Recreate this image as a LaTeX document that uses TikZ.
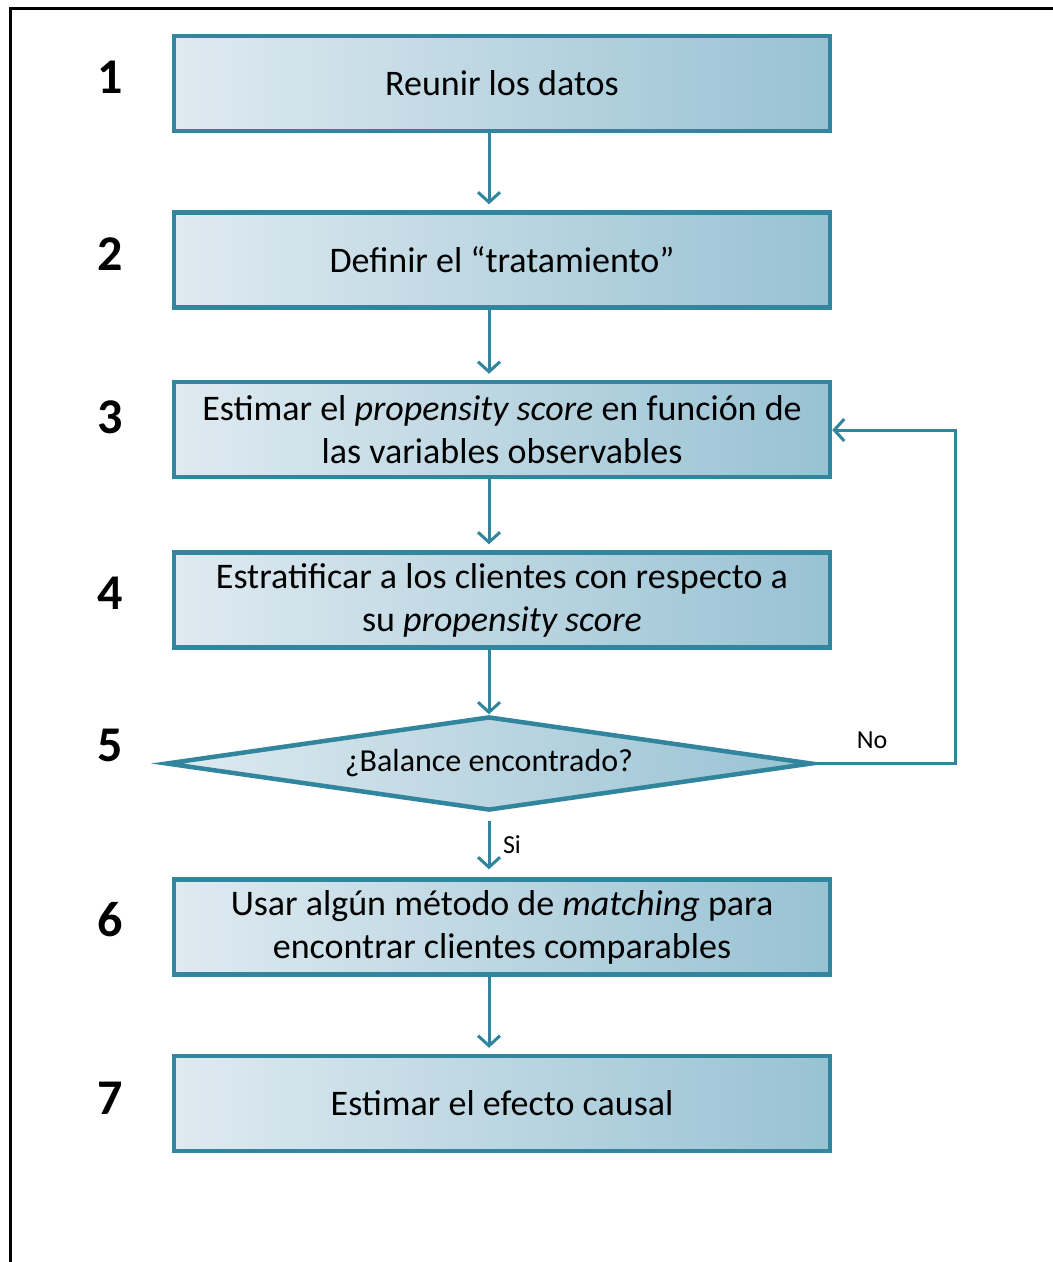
\documentclass[tikz,border=0pt]{standalone}
\usepackage{fontspec}
\setmainfont{Carlito}
\usetikzlibrary{shapes.geometric,arrows.meta}
\definecolor{teal1}{HTML}{31859C}
\definecolor{fillL}{HTML}{DFEAF0}
\definecolor{fillR}{HTML}{98C2D3}
\tikzset{
  stepbox/.style={draw=teal1, line width=4.5pt, left color=fillL, right color=fillR,
    minimum width=656pt, minimum height=95pt, inner sep=0pt, align=center,
    font=\fontsize{36}{43}\selectfont},
  decision/.style={diamond, draw=teal1, line width=4.5pt, left color=fillL, right color=fillR,
    minimum width=646pt, minimum height=94pt, inner sep=0pt, aspect=6.8,
    font=\fontsize{32}{38}\selectfont},
  num/.style={font=\fontsize{50}{56}\selectfont\bfseries, inner sep=0pt},
  flow/.style={draw=teal1, line width=3pt, -{Straight Barb[length=10pt,width=22pt,line width=3pt]}},
  lbl/.style={font=\fontsize{26}{30}\selectfont, inner sep=0pt}
}
\begin{document}
\begin{tikzpicture}[x=1pt,y=-1pt]
\useasboundingbox (0,0) rectangle (1053,1262);
\fill[white] (0,0) rectangle (1053,1262);
\draw[line width=3pt, black] (10,1262) -- (10,8) -- (1053,8);

\node[stepbox] (b1) at (502,83.5) {Reunir los datos};
\node[stepbox] (b2) at (502,260) {Definir el “tratamiento”};
\node[stepbox] (b3) at (502,429.5) {Estimar el \textit{propensity score} en función de\\las variables observables};
\node[stepbox] (b4) at (502,600) {Estratificar a los clientes con respecto a\\su \textit{propensity score}};
\node[decision] (d5) at (489,763.5) {\raisebox{-3pt}{¿Balance encontrado?}};
\node[stepbox] (b6) at (502,927) {Usar algún método de \textit{matching} para\\encontrar clientes comparables};
\node[stepbox] (b7) at (502,1103.5) {Estimar el efecto causal};

\node[num] (n1) at (110,77) {1};
\node[num] (n2) at (110,254) {2};
\node[num] (n3) at (110,417) {3};
\node[num] (n4) at (110,593) {4};
\node[num] (n5) at (110,745) {5};
\node[num] (n6) at (110,920) {6};
\node[num] (n7) at (110,1098) {7};

\draw[flow, shorten >=6pt] (b1.south -| d5.north) -- (b2.north -| d5.north);
\draw[flow, shorten >=6pt] (b2.south -| d5.north) -- (b3.north -| d5.north);
\draw[flow, shorten >=6pt] (b3.south -| d5.north) -- (b4.north -| d5.north);
\draw[flow] (b4.south -| d5.north) -- (d5.north);
\draw[flow, shorten <=8pt, shorten >=8pt] (d5.south) -- (b6.north -| d5.south);
\draw[flow, shorten >=6pt] (b6.south -| d5.north) -- (b7.north -| d5.north);

\coordinate (c1) at (955,763.5);
\coordinate (c2) at (955,430);
\draw[flow] (d5.east) -- (c1) -- (c2) -- (c2 -| b3.east);

\node[lbl] (no) at (872,740) {No};
\node[lbl] (si) at (512,845) {Si};
\end{tikzpicture}
\end{document}
